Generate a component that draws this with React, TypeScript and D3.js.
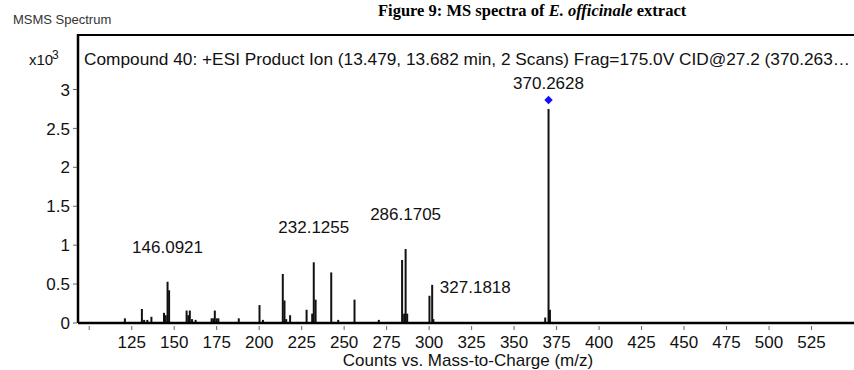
import React from 'react';
import * as d3 from 'd3';

// MS/MS peaks: m/z and abundance (x10^3 counts)
const peakMz = [
  121.0, 131.0, 132.3, 134.2, 136.6, 144.0, 145.0, 146.0921, 147.0,
  157.3, 158.3, 159.2, 160.5, 162.6,
  172.0, 173.0, 173.9, 175.0, 176.0, 188.0, 200.2, 202.2,
  213.9, 214.9, 215.9, 218.2, 227.9, 231.2, 232.1255, 233.2,
  242.4, 246.5, 256.1, 270.4,
  284.1, 285.3, 286.1705, 287.1, 300.2, 301.8, 302.5, 327.1818,
  368.3, 370.2628, 371.1
];
const peakIntensity = [
  0.06, 0.18, 0.04, 0.04, 0.08, 0.13, 0.10, 0.53, 0.42,
  0.16, 0.10, 0.16, 0.05, 0.04,
  0.06, 0.06, 0.16, 0.06, 0.06, 0.06, 0.23, 0.04,
  0.63, 0.29, 0.05, 0.10, 0.17, 0.12, 0.78, 0.30,
  0.65, 0.04, 0.30, 0.04,
  0.81, 0.12, 0.95, 0.12, 0.35, 0.49, 0.05, 0.01,
  0.07, 2.75, 0.17
];

const labelMz = [146.0921, 232.1255, 286.1705, 327.1818, 370.2628];
const labelText = ['146.0921', '232.1255', '286.1705', '327.1818', '370.2628'];
const precursorMz = 370.2628;

const yTicks = [0, 0.5, 1, 1.5, 2, 2.5, 3];
const yTickLabels = ['0', '0.5', '1', '1.5', '2', '2.5', '3'];
const xTicks = [100, 125, 150, 175, 200, 225, 250, 275, 300, 325, 350, 375, 400, 425, 450, 475, 500, 525];
const xTickLabels = ['', '125', '150', '175', '200', '225', '250', '275', '300', '325', '350', '375', '400', '425', '450', '475', '500', '525'];

const headerText = 'Compound 40: +ESI Product Ion (13.479, 13.682 min, 2 Scans) Frag=175.0V CID@27.2 (370.263\u2026';

const width = 854;
const height = 370;

let dimensions = {
  width: width,
  height: height,
  margin: { top: 35, right: 0, bottom: 47, left: 78 }
};

const App = () => {
  const x = d3.scaleLinear()
    .domain([93.4, 550])
    .range([dimensions.margin.left, dimensions.width - dimensions.margin.right]);

  const y = d3.scaleLinear()
    .domain([0, 3.7])
    .range([dimensions.height - dimensions.margin.bottom, dimensions.margin.top]);

  const y0 = y(0);
  const font = "'Liberation Sans', Arial, sans-serif";

  const peaks = peakMz.map((m, i) => ({ m, v: peakIntensity[i] }));

  // top of the tallest peak near each labelled m/z
  const labelTop = (m) => d3.max(peaks.filter(p => Math.abs(p.m - m) < 1.5), p => p.v);

  const precursorPeak = peaks.find(p => p.m === precursorMz);
  const diamondY = y(precursorPeak.v) - 9;
  const diamond = d3.symbol().type(d3.symbolSquare).size(36)();

  return (
    <svg width={width} height={height} style={{ position: 'fixed', left: 0, top: 0, background: '#fff' }} fontFamily={font}>
      <text x={378} y={16} fontFamily="'Liberation Serif', 'Times New Roman', serif" fontWeight="bold" fontSize={16.5} fill="#000">
        Figure 9: MS spectra of <tspan fontStyle="italic">E. officinale</tspan> extract
      </text>
      <text x={13} y={24} fontSize={13} fill="#333">MSMS Spectrum</text>
      <text x={29} y={65} fontSize={15} fill="#111">x10</text>
      <text x={52} y={59} fontSize={12} fill="#111">3</text>

      <g>
        {peaks.map((p, i) => (
          <line key={i} x1={x(p.m)} x2={x(p.m)} y1={y0} y2={y(p.v)} stroke="#111" strokeWidth={2} />
        ))}
      </g>

      <path d={diamond} transform={`translate(${x(precursorMz)},${diamondY}) rotate(45)`} fill="#1010ff" />

      {labelMz.map((m, i) => {
        const ly = m === precursorMz ? diamondY - 11 : y(labelTop(m)) - 29;
        return (
          <text key={i} x={x(m)} y={ly} textAnchor="middle" fontSize={17} fill="#111">{labelText[i]}</text>
        );
      })}

      {/* frame */}
      <line x1={dimensions.margin.left} x2={width} y1={dimensions.margin.top} y2={dimensions.margin.top} stroke="#000" strokeWidth={2} />
      <line x1={dimensions.margin.left} x2={dimensions.margin.left} y1={dimensions.margin.top - 1} y2={y0} stroke="#000" strokeWidth={2.5} />
      <line x1={dimensions.margin.left} x2={width} y1={y0} y2={y0} stroke="#000" strokeWidth={2.5} />

      <text x={84} y={65} fontSize={17} fill="#111" textLength={766} lengthAdjust="spacingAndGlyphs">{headerText}</text>

      {/* y axis */}
      {yTicks.map((t, i) => (
        <g key={i}>
          <line x1={dimensions.margin.left - 5} x2={dimensions.margin.left - 1} y1={y(t)} y2={y(t)} stroke="#666" strokeWidth={1} />
          <text x={70} y={y(t)} dy="0.36em" textAnchor="end" fontSize={17} fill="#111">{yTickLabels[i]}</text>
        </g>
      ))}

      {/* x axis */}
      {xTicks.map((t, i) => (
        <g key={i}>
          <line x1={x(t)} x2={x(t)} y1={y0 + 3} y2={y0 + 7} stroke="#666" strokeWidth={1} />
          <text x={x(t)} y={348} textAnchor="middle" fontSize={17} fill="#111">{xTickLabels[i]}</text>
        </g>
      ))}

      <text x={468} y={366} textAnchor="middle" fontSize={17} fill="#111">Counts vs. Mass-to-Charge (m/z)</text>
    </svg>
  );
};

export default App;
